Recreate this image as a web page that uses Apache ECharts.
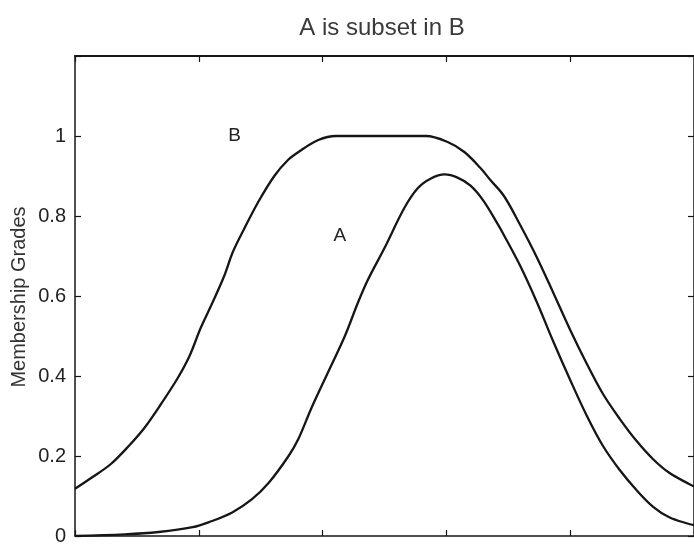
<!DOCTYPE html>
<html>
<head>
<meta charset="utf-8">
<script src="https://cdn.jsdelivr.net/npm/echarts@6/dist/echarts.min.js"></script>
<style>html,body{margin:0;padding:0;background:#fff}#c{width:694px;height:546px}</style>
</head>
<body>
<div id="c"></div>
<script>
// Values
var titleText = 'A is subset in B';
var yAxisName = 'Membership Grades';
var xTicks = [0, 2, 4, 6, 8, 10];
var yTicks = [0, 0.2, 0.4, 0.6, 0.8, 1];

var bX = [0, 0.26, 0.58, 0.88, 1.12, 1.39, 1.66, 1.85, 2.03, 2.22, 2.41, 2.55, 2.74, 2.96, 3.22, 3.44, 3.61, 3.93, 4.22, 5.67, 6.02, 6.29, 6.55, 6.71, 6.93, 7.19, 7.46, 7.73, 8.0, 8.27, 8.53, 8.8, 9.07, 9.34, 9.6, 9.92, 10];
var bY = [0.118, 0.145, 0.18, 0.227, 0.27, 0.33, 0.395, 0.45, 0.52, 0.583, 0.65, 0.71, 0.77, 0.835, 0.9, 0.94, 0.96, 0.99, 1.0, 1.0, 0.985, 0.96, 0.92, 0.89, 0.85, 0.778, 0.697, 0.607, 0.515, 0.43, 0.355, 0.293, 0.238, 0.192, 0.158, 0.13, 0.124];

var aX = [0, 0.8, 1.35, 1.9, 2.17, 2.54, 2.86, 3.13, 3.45, 3.61, 3.82, 4.09, 4.36, 4.57, 4.73, 5.0, 5.32, 5.54, 5.75, 5.97, 6.18, 6.39, 6.6, 6.82, 6.93, 7.19, 7.46, 7.73, 8.0, 8.27, 8.53, 8.8, 9.07, 9.34, 9.6, 9.92, 10];
var aY = [0, 0.004, 0.01, 0.022, 0.035, 0.059, 0.092, 0.133, 0.2, 0.243, 0.32, 0.41, 0.5, 0.583, 0.64, 0.72, 0.82, 0.87, 0.894, 0.904, 0.896, 0.876, 0.838, 0.782, 0.752, 0.676, 0.585, 0.485, 0.39, 0.3, 0.225, 0.165, 0.115, 0.073, 0.047, 0.03, 0.027];

var labelB = {text: 'B', x: 2.58, y: 1.0};
var labelA = {text: 'A', x: 4.28, y: 0.75};

function pairs(xs, ys) { return xs.map(function (x, i) { return [x, ys[i]]; }); }

var chart = echarts.init(document.getElementById('c'), null, {renderer: 'canvas'});
var lineCol = '#161616';
var fontFam = '"Liberation Sans", Arial, Helvetica, sans-serif';

function mp(lbl) {
  return {
    symbol: 'circle', symbolSize: 0, silent: true,
    data: [{coord: [lbl.x, lbl.y], value: lbl.text}],
    label: {show: true, position: 'inside', formatter: lbl.text, color: '#222', fontSize: 19, fontFamily: fontFam}
  };
}

chart.setOption({
  animation: false,
  backgroundColor: '#fff',
  title: {
    text: titleText, left: 377, top: 11, textAlign: 'center',
    textStyle: {fontSize: 24, fontWeight: 'normal', color: '#3a3a3a', fontFamily: fontFam}
  },
  grid: {left: 75, right: -3, top: 56, bottom: 3, containLabel: false},
  graphic: [{
    type: 'text', x: 19, y: 297, rotation: Math.PI / 2,
    style: {text: yAxisName, fill: '#333', font: '20px ' + fontFam, align: 'center', verticalAlign: 'middle'}
  }],
  xAxis: [{
    type: 'value', min: xTicks[0], max: xTicks[xTicks.length - 1], interval: 2, position: 'bottom',
    axisLine: {show: true, onZero: false, lineStyle: {color: lineCol, width: 1.5}},
    axisTick: {show: true, inside: true, length: 6, lineStyle: {color: lineCol, width: 1.2}},
    axisLabel: {show: false}, splitLine: {show: false}
  }, {
    type: 'value', min: xTicks[0], max: xTicks[xTicks.length - 1], interval: 2, position: 'top',
    axisLine: {show: true, onZero: false, lineStyle: {color: lineCol, width: 2}},
    axisTick: {show: true, inside: true, length: 6, lineStyle: {color: lineCol, width: 1.2}},
    axisLabel: {show: false}, splitLine: {show: false}
  }],
  yAxis: [{
    type: 'value', min: 0, max: 1.2, interval: 0.2, position: 'left',
    axisLine: {show: true, onZero: false, lineStyle: {color: lineCol, width: 1.5}},
    axisTick: {show: true, inside: true, length: 6, lineStyle: {color: lineCol, width: 1.2}},
    axisLabel: {
      show: true, margin: 9, color: '#222', fontSize: 20, fontFamily: fontFam,
      formatter: function (v) {
        for (var i = 0; i < yTicks.length; i++) { if (Math.abs(yTicks[i] - v) < 1e-6) return String(yTicks[i]); }
        return '';
      }
    },
    splitLine: {show: false}
  }, {
    type: 'value', min: 0, max: 1.2, interval: 0.2, position: 'right',
    axisLine: {show: true, onZero: false, lineStyle: {color: lineCol, width: 1.5}},
    axisTick: {show: true, inside: true, length: 6, lineStyle: {color: lineCol, width: 1.2}},
    axisLabel: {show: false}, splitLine: {show: false}
  }],
  series: [{
    name: 'B', type: 'line', data: pairs(bX, bY), showSymbol: false, smooth: 0.35,
    lineStyle: {color: lineCol, width: 2.3}, markPoint: mp(labelB)
  }, {
    name: 'A', type: 'line', data: pairs(aX, aY), showSymbol: false, smooth: 0.35,
    lineStyle: {color: lineCol, width: 2.3}, markPoint: mp(labelA)
  }]
});
</script>
</body>
</html>
